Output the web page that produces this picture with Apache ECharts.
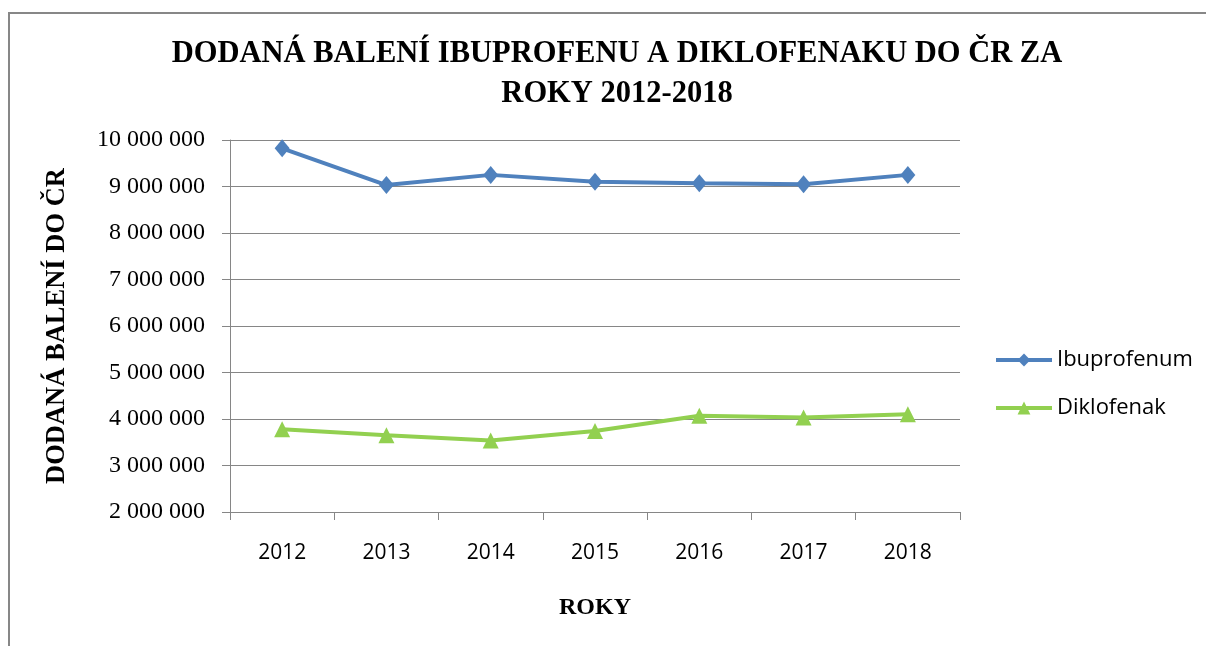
<!DOCTYPE html>
<html>
<head>
<meta charset="utf-8">
<script src="https://cdn.jsdelivr.net/npm/echarts@6/dist/echarts.min.js"></script>
<style>
  html, body { margin: 0; padding: 0; background: #fff; }
  #chart { width: 1206px; height: 646px; }
</style>
</head>
<body>
<div id="chart"></div>
<script>
    // hodnoty
    var roky = ['2012', '2013', '2014', '2015', '2016', '2017', '2018'];
    var ibuprofenum = [9820000, 9030000, 9250000, 9100000, 9070000, 9050000, 9250000];
    var diklofenak = [3780000, 3650000, 3540000, 3740000, 4070000, 4030000, 4100000];

    var myChart = echarts.init(document.getElementById('chart'));

    function mezery(v) {
        return String(v).replace(/\B(?=(\d{3})+(?!\d))/g, ' ');
    }

    var option = {
        backgroundColor: '#fff',
        animation: false,
        title: {
            text: 'DODANÁ BALENÍ IBUPROFENU A DIKLOFENAKU DO ČR ZA\nROKY 2012-2018',
            left: 612,
            textAlign: 'center',
            top: 29,
            textStyle: {
                fontFamily: 'Liberation Serif',
                fontWeight: 'bold',
                fontSize: 30.5,
                lineHeight: 40,
                color: '#000'
            }
        },
        graphic: [{
            type: 'polyline',
            shape: { points: [[9, 646], [9, 13], [1206, 13]] },
            style: { stroke: '#878787', lineWidth: 2, fill: null }
        }],
        legend: {
            orient: 'vertical',
            left: 989,
            top: 343,
            itemWidth: 56,
            itemHeight: 16,
            itemGap: 24,
            data: ['Ibuprofenum', 'Diklofenak'],
            lineStyle: { width: 4 },
            textStyle: {
                fontFamily: 'Open Sans',
                fontSize: 22,
                lineHeight: 24,
                color: '#000'
            }
        },
        grid: {
            left: 230,
            right: 246,
            top: 140,
            bottom: 134
        },
        xAxis: {
            type: 'category',
            data: roky,
            boundaryGap: true,
            name: 'ROKY',
            nameLocation: 'middle',
            nameGap: 84,
            nameTextStyle: {
                fontFamily: 'Liberation Serif',
                fontWeight: 'bold',
                fontSize: 24,
                color: '#000'
            },
            axisLine: { lineStyle: { color: '#868686', width: 1 } },
            axisTick: { show: true, length: 8, inside: false, alignWithLabel: false, lineStyle: { color: '#868686' } },
            axisLabel: {
                margin: 31,
                fontFamily: 'Open Sans',
                fontSize: 21,
                color: '#000'
            }
        },
        yAxis: {
            type: 'value',
            min: 2000000,
            max: 10000000,
            interval: 1000000,
            name: 'DODANÁ BALENÍ DO ČR',
            nameLocation: 'middle',
            nameGap: 159,
            nameRotate: 90,
            nameTextStyle: {
                fontFamily: 'Liberation Serif',
                fontWeight: 'bold',
                fontSize: 26.5,
                color: '#000'
            },
            axisLine: { show: true, lineStyle: { color: '#868686', width: 1 } },
            axisTick: { show: true, length: 8, lineStyle: { color: '#868686' } },
            splitLine: { show: true, lineStyle: { color: '#868686', width: 1 } },
            axisLabel: {
                margin: 25,
                fontFamily: 'Liberation Serif',
                fontSize: 24,
                color: '#000',
                formatter: mezery
            }
        },
        series: [
            {
                name: 'Ibuprofenum',
                type: 'line',
                data: ibuprofenum,
                symbol: 'diamond',
                symbolSize: [15, 18],
                color: '#4F81BD',
                lineStyle: { width: 4, color: '#4F81BD' },
                itemStyle: { color: '#4F81BD' }
            },
            {
                name: 'Diklofenak',
                type: 'line',
                data: diklofenak,
                symbol: 'triangle',
                symbolSize: [16, 16],
                color: '#92D050',
                lineStyle: { width: 4, color: '#92D050' },
                itemStyle: { color: '#92D050' }
            }
        ]
    };
    myChart.setOption(option);
</script>
</body>
</html>
